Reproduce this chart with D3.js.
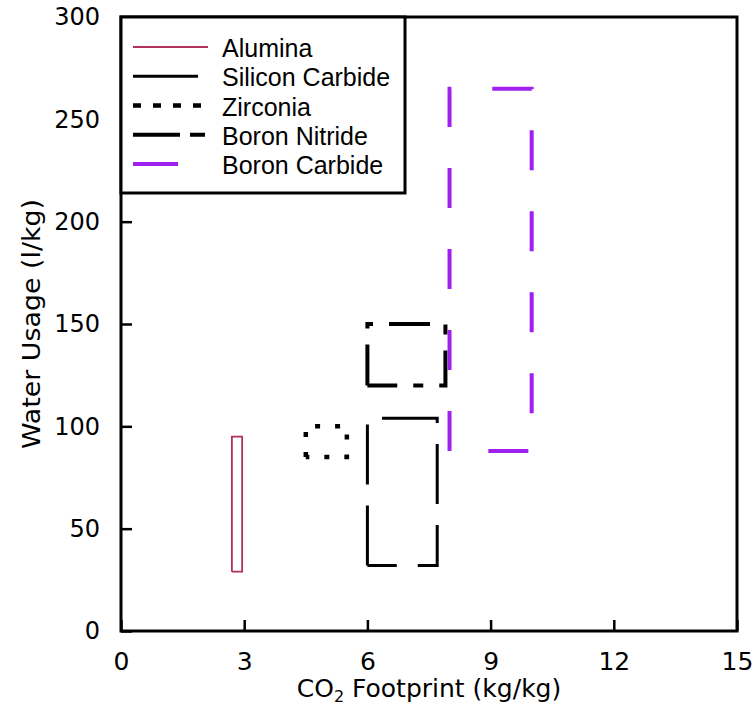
<!DOCTYPE html>
<html>
<head>
<meta charset="utf-8">
<script src="https://cdn.jsdelivr.net/npm/d3@7"></script>
<style>
  html, body { margin: 0; padding: 0; background: #fff; }
  svg { display: block; }
</style>
</head>
<body>
<svg id="chart" width="753" height="708"></svg>
<script>
// Ranges of CO2 footprint and water usage per material (drawn as rectangles)
const materials = ["Alumina", "Silicon Carbide", "Zirconia", "Boron Nitride", "Boron Carbide"];
const co2Min   = [2.7, 6.0, 4.5, 6.0, 8.0];
const co2Max   = [2.95, 7.7, 5.5, 7.9, 10.0];
const waterMin = [29, 32, 85, 120, 88];
const waterMax = [95, 104, 100, 150, 265];

const xTicks = [0, 3, 6, 9, 12, 15];
const yTicks = [0, 50, 100, 150, 200, 250, 300];

// Line styles per material: colour, width, dash pattern in the plot and in the key
const styles = [
  { color: "#b03060", width: 1.8, dash: null,          keyDash: null,          keyLen: 75 },
  { color: "#000000", width: 3,   dash: "60,21",       keyDash: null,          keyLen: 65 },
  { color: "#000000", width: 4.5, dash: "5,15",        keyDash: "8,12",        keyLen: 72 },
  { color: "#000000", width: 4,   dash: "41,16,10,16", keyDash: "47,10,15,20", keyLen: 72 },
  { color: "#a020f0", width: 4,   dash: "40,41",       keyDash: "45,40",       keyLen: 45 }
];

const svg = d3.select("#chart");
const margin = { left: 121, right: 16, top: 17, bottom: 77 };
const W = 753, H = 708;

const x = d3.scaleLinear().domain([0, 15]).range([margin.left, W - margin.right]);
const y = d3.scaleLinear().domain([0, 300]).range([H - margin.bottom, margin.top]);

const FONT = "'DejaVu Sans', Verdana, sans-serif";
const KEYFONT = "'Liberation Sans', Arial, sans-serif";

// Rectangles: start at lower-left corner, go up, right, down, back
const data = materials.map((m, i) => ({
  name: m, x0: co2Min[i], x1: co2Max[i], y0: waterMin[i], y1: waterMax[i], style: styles[i]
}));

const line = d3.line().x(d => x(d[0])).y(d => y(d[1]));

svg.append("g")
  .selectAll("path")
  .data(data)
  .join("path")
  .attr("d", d => line([[d.x0, d.y0], [d.x0, d.y1], [d.x1, d.y1], [d.x1, d.y0], [d.x0, d.y0]]))
  .attr("fill", "none")
  .attr("stroke", d => d.style.color)
  .attr("stroke-width", d => d.style.width)
  .attr("stroke-dasharray", d => d.style.dash)
  .attr("stroke-linejoin", "miter");

// Axes: ticks point inward
const xAxis = d3.axisBottom(x).tickValues(xTicks).tickSize(-11).tickPadding(21).tickFormat(d3.format("d"));
const yAxis = d3.axisLeft(y).tickValues(yTicks).tickSize(-11).tickPadding(21).tickFormat(d3.format("d"));

const gx = svg.append("g").attr("transform", `translate(0,${y(0)})`).call(xAxis);
const gy = svg.append("g").attr("transform", `translate(${x(0)},0)`).call(yAxis);

[gx, gy].forEach(g => {
  g.select(".domain").remove();
  g.selectAll(".tick line").attr("stroke", "#000").attr("stroke-width", 2.5);
  g.selectAll(".tick text").attr("fill", "#000").attr("font-family", FONT).attr("font-size", 24);
});
gx.selectAll(".tick text").attr("dy", "0.71em").attr("font-size", 25);

// Plot frame
svg.append("rect")
  .attr("x", x(0)).attr("y", y(300))
  .attr("width", x(15) - x(0)).attr("height", y(0) - y(300))
  .attr("fill", "none").attr("stroke", "#000").attr("stroke-width", 3);

// Axis titles
const xt = svg.append("text")
  .attr("x", (x(0) + x(15)) / 2).attr("y", 697)
  .attr("text-anchor", "middle")
  .attr("font-family", FONT).attr("font-size", 25).attr("fill", "#000");
xt.append("tspan").text("CO");
xt.append("tspan").attr("font-size", 16).attr("dy", 5).text("2");
xt.append("tspan").attr("dy", -5).text(" Footprint (kg/kg)");

svg.append("text")
  .attr("transform", `translate(40,${(y(0) + y(300)) / 2}) rotate(-90)`)
  .attr("text-anchor", "middle")
  .attr("font-family", FONT).attr("font-size", 25).attr("fill", "#000")
  .attr("textLength", 250).attr("lengthAdjust", "spacingAndGlyphs")
  .text("Water Usage (l/kg)");

// Key
const key = svg.append("g");
key.append("rect")
  .attr("x", x(0)).attr("y", y(300))
  .attr("width", 284).attr("height", 176)
  .attr("fill", "#fff").attr("stroke", "#000").attr("stroke-width", 3);

const rows = key.selectAll("g.row").data(data).join("g")
  .attr("class", "row")
  .attr("transform", (d, i) => `translate(133,${47 + i * 29.25})`);

rows.append("line")
  .attr("x1", 0).attr("x2", d => d.style.keyLen)
  .attr("y1", 0).attr("y2", 0)
  .attr("stroke", d => d.style.color)
  .attr("stroke-width", d => d.style.width)
  .attr("stroke-dasharray", d => d.style.keyDash);

rows.append("text")
  .attr("x", 89).attr("y", 10)
  .attr("font-family", KEYFONT).attr("font-size", 25).attr("fill", "#000")
  .text(d => d.name);
</script>
</body>
</html>
